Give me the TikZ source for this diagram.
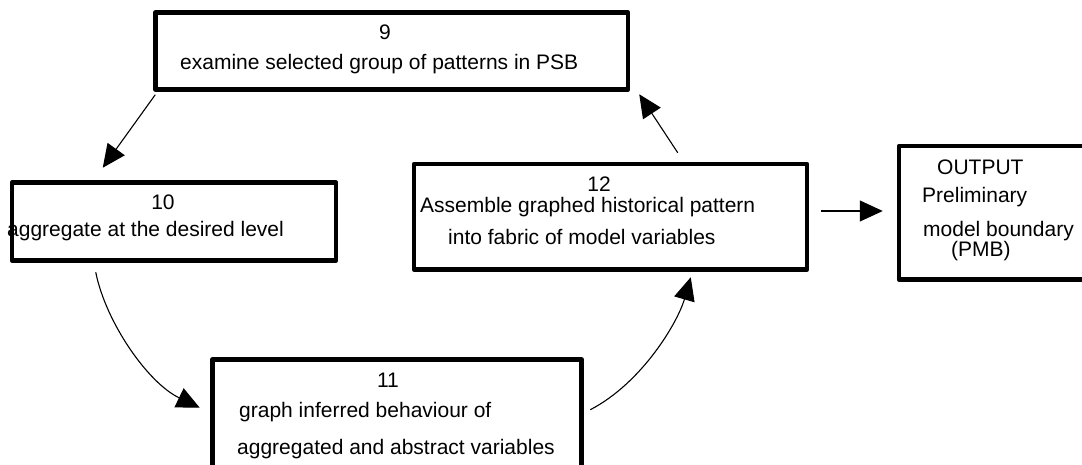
\documentclass[tikz,border=0pt]{standalone}
\usepackage{fontspec}
\setmainfont{Liberation Sans}
\usetikzlibrary{arrows.meta,calc}

\tikzset{
  stepbox/.style={draw=black, line width=4.5pt, line join=round, inner sep=0pt, fill=none},
  lbl/.style={inner sep=0pt, font=\fontsize{21}{25}\selectfont},
  flow/.style={draw=black, line width=1.1pt, -{Triangle[length=23pt,width=21pt]}},
}

\begin{document}
\begin{tikzpicture}[x=1pt,y=-1pt]
\useasboundingbox[fill=white] (0,0) rectangle (1082,465);

% process boxes
\node[stepbox, minimum width=472.5pt, minimum height=77pt]  (b9)  at (391.75,51) {};
\node[stepbox, minimum width=324pt,   minimum height=78pt]  (b10) at (174,221.5) {};
\node[stepbox, minimum width=369pt,   minimum height=110.5pt] (b11) at (397,414.75) {};
\node[stepbox, minimum width=393pt,   minimum height=105.5pt] (b12) at (610.5,216.75) {};
\node[stepbox, minimum width=191pt,   minimum height=133.5pt] (out) at (994.5,212.75) {};

% box texts
\node[lbl, anchor=base] (t9n) at (385,40) {9};
\node[lbl, anchor=base west] (t9) at (180,70) {examine selected group of patterns in PSB};

\node[lbl, anchor=base] (t10n) at (163,210) {10};
\node[lbl, anchor=base west] (t10) at (7,237) {aggregate at the desired level};

\node[lbl, anchor=base] (t12n) at (599,192) {12};
\node[lbl, anchor=base west] (t12a) at (420,213) {Assemble graphed historical pattern};
\node[lbl, anchor=base west] (t12b) at (448,245) {into fabric of model variables};

\node[lbl, anchor=base west] (to1) at (937,175) {OUTPUT};
\node[lbl, anchor=base west] (to2) at (922,203) {Preliminary};
\node[lbl, anchor=base west] (to3) at (923,237) {model boundary};
\node[lbl, anchor=base west] (to4) at (951,257) {(PMB)};

\node[lbl, anchor=base] (t11n) at (388,387) {11};
\node[lbl, anchor=base west] (t11a) at (239,417) {graph inferred behaviour of};
\node[lbl, anchor=base west] (t11b) at (237,454) {aggregated and abstract variables};

% connectors of the cycle
\draw[flow] ($(b9.south west)+(2,3)$) -- ($(b10.north west)+(93,-12.5)$);
\draw[flow] ($(b10.south west)+(86,9.5)$)
  .. controls +(10,50) and +(-52,-25) .. ($(b11.north west)+(-10.5,50.5)$);
\draw[flow] ($(b11.north east)+(6.5,52.5)$)
  .. controls +(52,-27) and +(-13,45) .. ($(b12.south west)+(279,5.5)$);
\draw[flow] ($(b12.north west)+(266,-9)$) -- ($(b9.south east)+(9,2.5)$);
\draw[flow] ($(b12.east)+(12,-5.75)$) -- ($(out.west)+(-14,-1.75)$);
\end{tikzpicture}
\end{document}
